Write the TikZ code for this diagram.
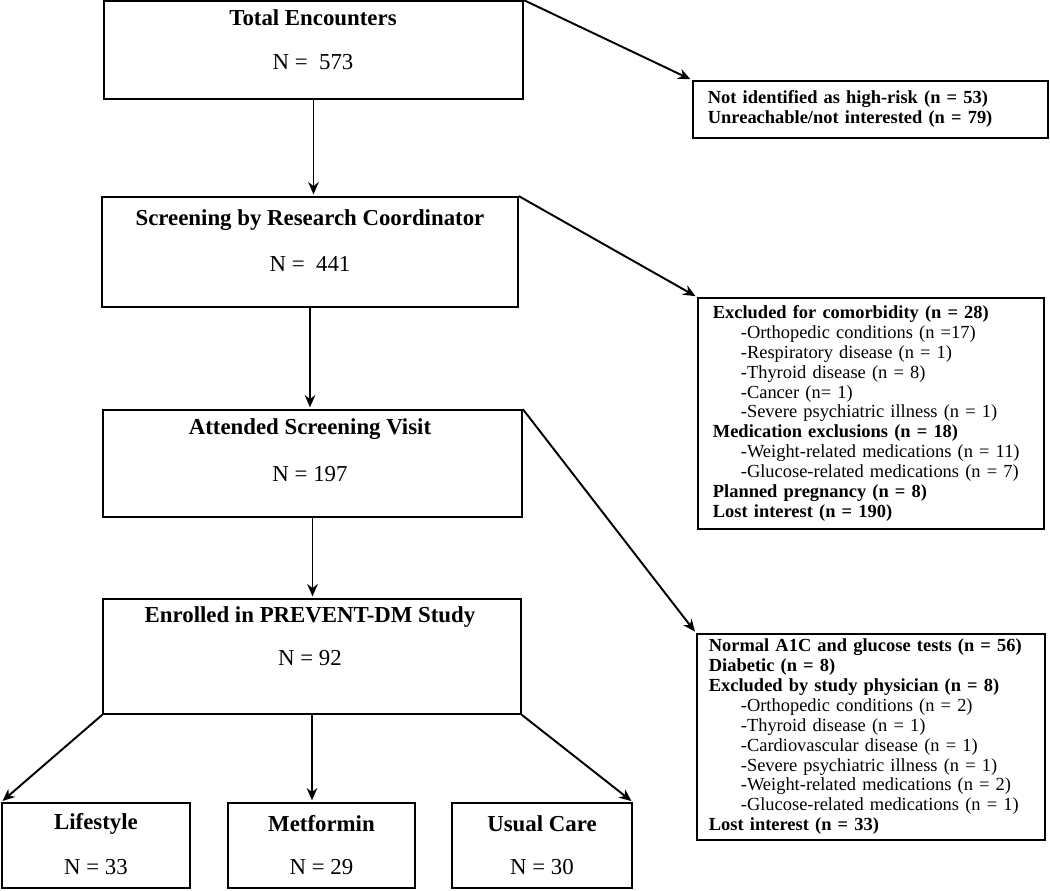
\documentclass[tikz,border=0pt]{standalone}
\usepackage{fontspec}
\setmainfont{Liberation Serif}
\usetikzlibrary{arrows.meta}

\begin{document}
\begin{tikzpicture}[x=0.02cm,y=-0.02cm,
	stage/.style={draw, line width=1pt, inner sep=0pt},
	ttl/.style={font=\fontsize{13}{15}\selectfont\bfseries},
	cnt/.style={font=\fontsize{13}{15}\selectfont},
	excl/.style={draw, line width=1pt, align=left, anchor=north west, inner ysep=1pt, font=\fontsize{10.5}{11.3}\selectfont},
	flow/.style={-{Stealth[length=7pt,width=6pt]}, line width=1.1pt, shorten >=1pt}]
				
				\useasboundingbox (0,0) rectangle (1050,890);
				
				% main column
				\node[stage, minimum width=8.38cm, minimum height=1.96cm] (Total) at (313.5,50) {};
				\node[ttl] (lblTotal) at (313,18) {Total Encounters};
				\node[cnt] (cntTotal) at (313,62) {N =~ 573};
				
				\node[stage, minimum width=8.32cm, minimum height=2.2cm] (Screen) at (310,252) {};
				\node[ttl] (lblScreen) at (310,220) {Screening by Research Coordinator};
				\node[cnt] (cntScreen) at (310,264) {N =~ 441};
				
				\node[stage, minimum width=8.38cm, minimum height=2.14cm] (Attend) at (312.5,463.5) {};
				\node[ttl] (lblAttend) at (310,429) {Attended Screening Visit};
				\node[cnt] (cntAttend) at (310,474) {N = 197};
				
				\node[stage, minimum width=8.36cm, minimum height=2.3cm] (Enrol) at (312,656.5) {};
				\node[ttl] (lblEnrol) at (310,617) {Enrolled in PREVENT-DM Study};
				\node[cnt] (cntEnrol) at (310,658) {N = 92};
				
				% study arms
				\node[stage, minimum width=3.76cm, minimum height=1.7cm] (Life) at (96,845.5) {};
				\node[ttl] (lblLife) at (96,824) {Lifestyle};
				\node[cnt] (cntLife) at (96,867) {N = 33};
				
				\node[stage, minimum width=3.74cm, minimum height=1.7cm] (Metf) at (321.5,845.5) {};
				\node[ttl] (lblMetf) at (321.5,824) {Metformin};
				\node[cnt] (cntMetf) at (321.5,867) {N = 29};
				
				\node[stage, minimum width=3.6cm, minimum height=1.7cm] (Usual) at (542,845.5) {};
				\node[ttl] (lblUsual) at (542,824) {Usual Care};
				\node[cnt] (cntUsual) at (542,867) {N = 30};
				
				% exclusions
				\node[excl, inner xsep=0.3cm, text width=6.5cm, minimum height=1.14cm] (ExclA) at (692,80) {\textbf{Not identified as high-risk (n = 53)}\\
					\textbf{Unreachable/not interested (n = 79)}};
				
				\node[excl, inner xsep=0.3cm, text width=6.32cm, minimum height=4.62cm] (ExclB) at (697,297) {\textbf{Excluded for comorbidity (n = 28)}\\
					\hspace*{0.56cm}-Orthopedic conditions (n =17)\\
					\hspace*{0.56cm}-Respiratory disease (n = 1)\\
					\hspace*{0.56cm}-Thyroid disease (n = 8)\\
					\hspace*{0.56cm}-Cancer (n= 1)\\
					\hspace*{0.56cm}-Severe psychiatric illness (n = 1)\\
					\textbf{Medication exclusions (n = 18)}\\
					\hspace*{0.56cm}-Weight-related medications (n = 11)\\
					\hspace*{0.56cm}-Glucose-related medications (n = 7)\\
					\textbf{Planned pregnancy (n = 8)}\\
					\textbf{Lost interest (n = 190)}};
				
				\node[excl, inner xsep=0.24cm, text width=6.48cm, minimum height=4.12cm] (ExclC) at (696,633) {\textbf{Normal A1C and glucose tests (n = 56)}\\
					\textbf{Diabetic (n = 8)}\\
					\textbf{Excluded by study physician (n = 8)}\\
					\hspace*{0.64cm}-Orthopedic conditions (n = 2)\\
					\hspace*{0.64cm}-Thyroid disease (n = 1)\\
					\hspace*{0.64cm}-Cardiovascular disease (n = 1)\\
					\hspace*{0.64cm}-Severe psychiatric illness (n = 1)\\
					\hspace*{0.64cm}-Weight-related medications (n = 2)\\
					\hspace*{0.64cm}-Glucose-related medications (n = 1)\\
					\textbf{Lost interest (n = 33)}};
				
				% connectors
				\draw[flow] (Total.south) -- (Total.south |- Screen.north);
				\draw[flow] (Screen.south) -- (Screen.south |- Attend.north);
				\draw[flow] (Attend.south) -- (Attend.south |- Enrol.north);
				
				\draw[flow] (Total.north east) -- (ExclA.north west);
				\draw[flow] (Screen.north east) -- (ExclB.north west);
				\draw[flow] (Attend.north east) -- (ExclC.north west);
				
				\draw[flow] (Enrol.south west) -- (Life.north west);
				\draw[flow] (Enrol.south) -- (Enrol.south |- Metf.north);
				\draw[flow] (Enrol.south east) -- (Usual.north east);
				
			\end{tikzpicture}
\end{document}
